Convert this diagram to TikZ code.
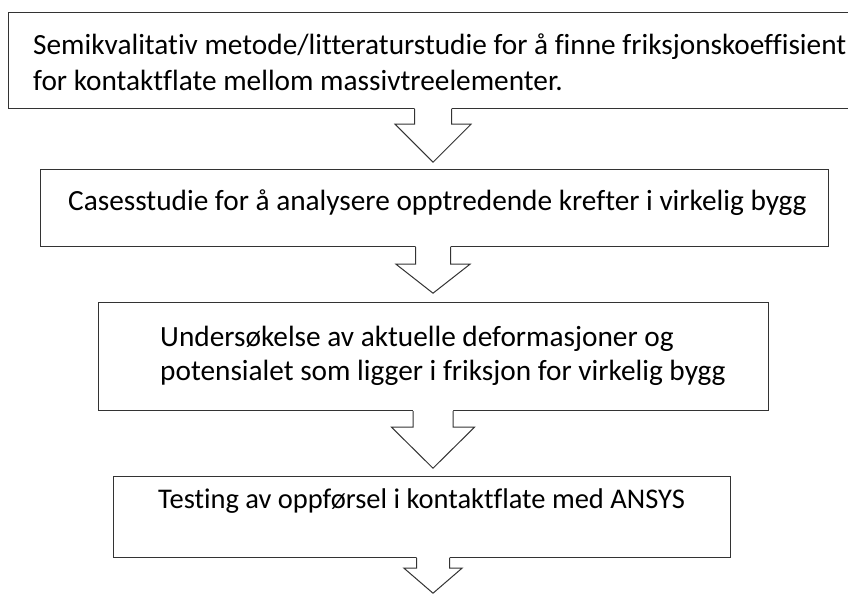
\documentclass[tikz,border=0pt]{standalone}
\usepackage{fontspec}
\setmainfont{Carlito}[Ligatures={NoCommon}]
\usetikzlibrary{calc}
\newcommand\blkarrow[5]{%
  \path (ax |- #1.south) coordinate (top);
  \fill[white] ([shift={(-#4,-1.5)}]top) -- ++(0,#2+1.5) -- ++(#4-#5,0) -- ++(#5,#3-#2) -- ++(#5,-#3+#2) -- ++(#4-#5,0) -- ++(0,-#2-1.5) -- cycle;
  \draw[blockarrow] ([shift={(-#4,0)}]top) -- ++(0,#2) -- ++(#4-#5,0) -- ++(#5,#3-#2) -- ++(#5,-#3+#2) -- ++(#4-#5,0) -- ++(0,-#2);
}
\begin{document}
\begin{tikzpicture}[x=1pt,y=-1pt,
  box/.style={draw=black!80, line width=1.2pt, inner sep=0pt, anchor=north west},
  lbl/.style={anchor=base west, inner sep=0pt, font=\fontsize{29.3}{35}\selectfont},
  blockarrow/.style={draw=black!80, line width=1pt, line join=miter}]
\useasboundingbox (0,0) rectangle (848,594);
\fill[white] (0,0) rectangle (848,594);
\clip (0,0) rectangle (848,594);
\coordinate (ax) at (433,0);
% boxes
\node[box, minimum width=880pt, minimum height=96pt] (b1) at (8,12) {};
\node[box, minimum width=788pt, minimum height=77pt] (b2) at (40,169) {};
\node[box, minimum width=670pt, minimum height=108pt] (b3) at (98,302) {};
\node[box, minimum width=617pt, minimum height=81pt] (b4) at (113,476) {};
% texts
\node[lbl] (t1a) at (33,55) {Semikvalitativ metode/litteraturstudie for å finne friksjonskoeffisient};
\node[lbl] (t1b) at (33,90) {for kontaktflate mellom massivtreelementer.};
\node[lbl] (t2) at (68,210) {Casesstudie for å analysere opptredende krefter i virkelig bygg};
\node[lbl] (t3a) at (160,346) {Undersøkelse av aktuelle deformasjoner og};
\node[lbl] (t3b) at (160,380) {potensialet som ligger i friksjon for virkelig bygg};
\node[lbl, font=\fontsize{28.5}{35}\selectfont] (t4) at (158,508) {Testing av oppførsel i kontaktflate med ANSYS};
% block arrows
\blkarrow{b1}{15}{53}{18.5}{38}
\blkarrow{b2}{17}{46}{17.5}{37}
\blkarrow{b3}{16}{57}{20}{41.5}
\blkarrow{b4}{10}{35}{16.5}{29}
\end{tikzpicture}
\end{document}
